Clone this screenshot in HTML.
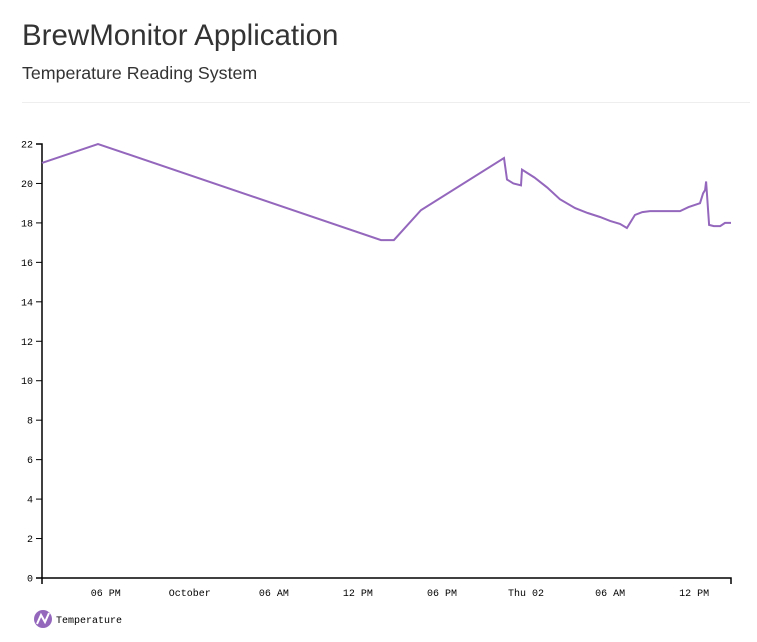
<!DOCTYPE html>
<html><head><meta charset="utf-8"><style>
body{margin:0;width:757px;height:642px;background:#fff;font-family:"Liberation Sans",sans-serif;overflow:hidden;position:relative}
h1{position:absolute;left:22px;top:19px;margin:0;font-size:29.5px;font-weight:normal;color:#333}
h2{position:absolute;left:22px;top:63px;margin:0;font-size:17.8px;font-weight:normal;color:#333}
.hr{position:absolute;left:22px;top:102px;width:728px;height:1px;background:#eee}
svg{position:absolute;left:0;top:0}
text{font-family:"Liberation Mono",monospace;font-size:10px;fill:#000}
</style></head><body>
<h1>BrewMonitor Application</h1>
<h2>Temperature Reading System</h2>
<div class="hr"></div>
<svg id="chart" width="757" height="642"></svg>
<script>
// hours since Sep 30 00:00
const hours = [13.45,17.45,37.65,38.57,40.5,46.43,46.64,47.1,47.64,47.71,48.6,49.5,50.42,51.5,52.4,53.28,54.0,54.71,55.2,55.77,56.3,56.85,57.9,58.99,59.6,60.42,60.64,60.78,60.85,61.07,61.4,61.86,62.2,62.63];
const temps = [21.04,22,17.13,17.13,18.65,21.29,20.2,20.0,19.9,20.7,20.3,19.8,19.2,18.75,18.5,18.3,18.1,17.95,17.74,18.4,18.55,18.6,18.6,18.6,18.8,19.0,19.5,19.67,20.1,17.9,17.84,17.84,18.0,18.0];
const yTicks = [0,2,4,6,8,10,12,14,16,18,20,22];
const xTickHours = [18,24,30,36,42,48,54,60];
const xTickLabels = ["06 PM","October","06 AM","12 PM","06 PM","Thu 02","06 AM","12 PM"];
const X0=42,X1=731,Y0=578,Y1=144,H0=13.45,H1=62.63;
const x=h=>X0+(h-H0)/(H1-H0)*(X1-X0);
const y=v=>Y0-v/22*(Y0-Y1);
const svg=document.getElementById('chart');
const NS='http://www.w3.org/2000/svg';
function mk(t,a){const e=document.createElementNS(NS,t);for(const k in a)e.setAttribute(k,a[k]);svg.appendChild(e);return e;}
let ya=mk('path',{d:`M${X0-6},${Y1}H${X0}V${Y0}H${X0-6}`,stroke:'#000',fill:'none','stroke-width':1.5});


let xa=mk('path',{d:`M${X0},${Y0+6}V${Y0}H${X1}V${Y0+6}`,stroke:'#000',fill:'none','stroke-width':1.5});


yTicks.forEach(v=>{
 const l=mk('line',{x1:X0-6,x2:X0,y1:y(v),y2:y(v),stroke:'#000'});
 
 
 const t=mk('text',{x:X0-9,y:y(v)+3.5,'text-anchor':'end'});t.textContent=v;
 
 
});
xTickHours.forEach((h,i)=>{
 const t=mk('text',{x:x(h),y:Y0+18,'text-anchor':'middle'});t.textContent=xTickLabels[i];
 
 
});
const line=mk('path',{d:hours.map((h,i)=>(i?'L':'M')+x(h).toFixed(1)+','+y(temps[i]).toFixed(1)).join(''),stroke:'#9467bd',fill:'none','stroke-width':2});


const lc=mk('circle',{cx:43,cy:619,r:9,fill:'#9467bd'});


const lp=mk('path',{d:'M37,624L41,615L45,622L49,613',stroke:'#fff',fill:'none','stroke-width':2});


const lt=mk('text',{x:56,y:623});lt.textContent='Temperature';


</script>
</body></html>
